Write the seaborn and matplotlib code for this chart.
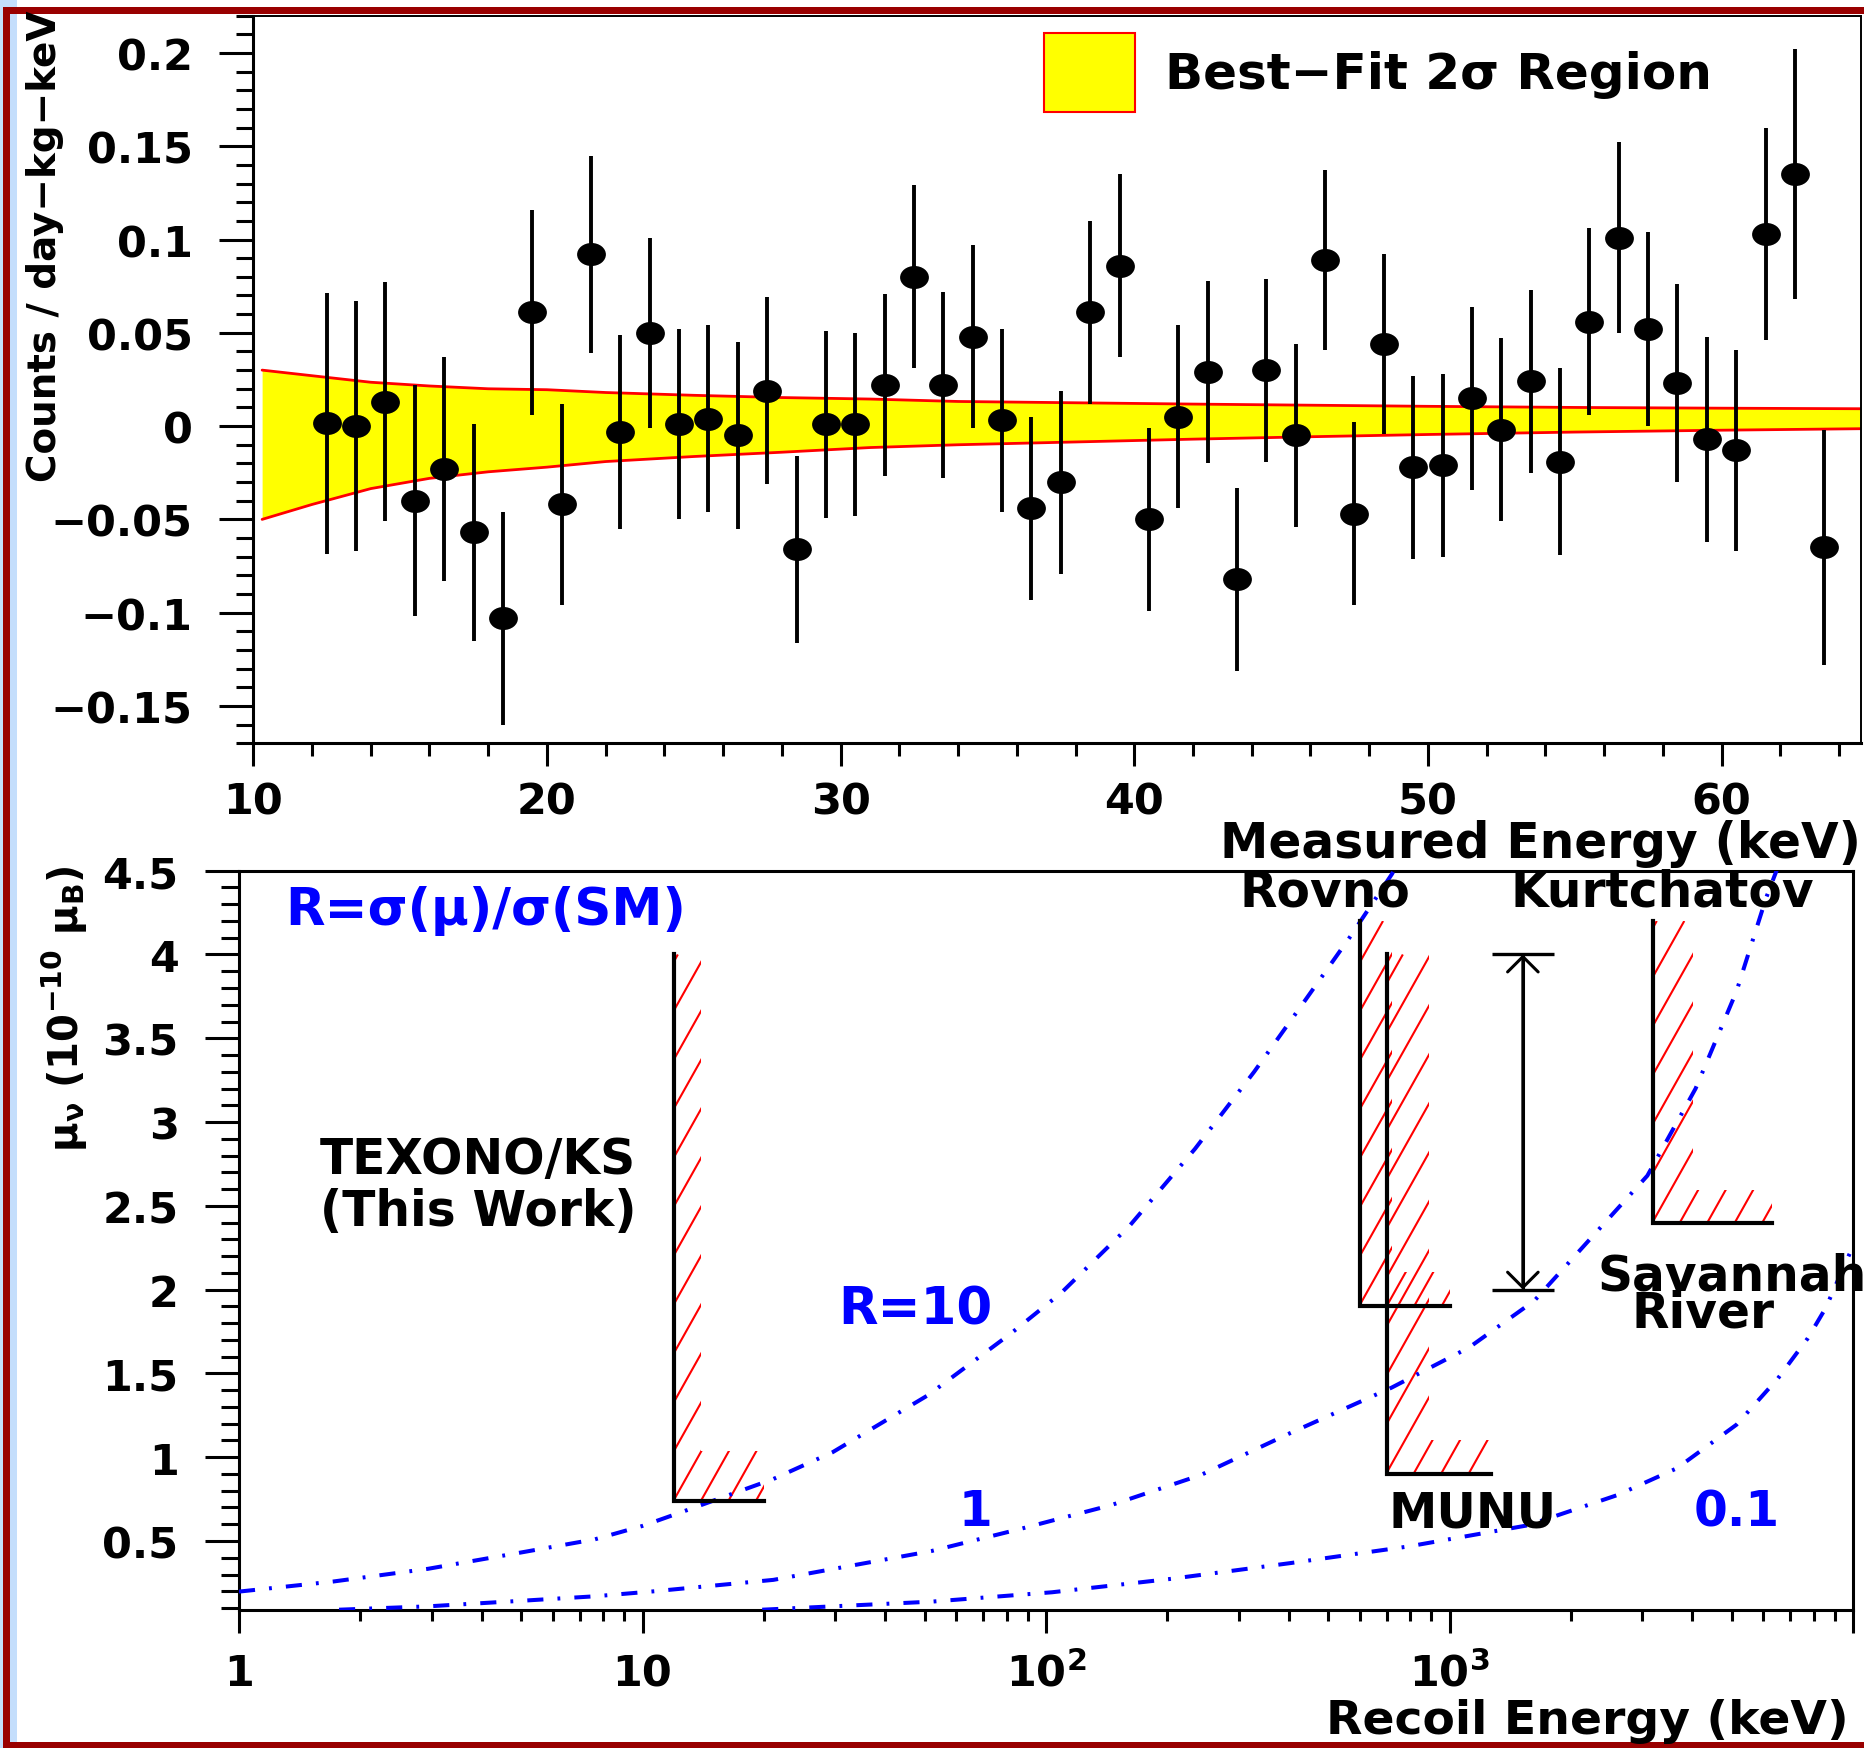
import numpy as np
import matplotlib
matplotlib.use('Agg')
import matplotlib.pyplot as plt
import matplotlib.ticker as mticker
import matplotlib.transforms as mtransforms
from matplotlib.path import Path
from matplotlib.patches import Patch, Rectangle
from matplotlib.collections import LineCollection
import seaborn as sns

# ---- top panel: residual spectrum (counts / day-kg-keV) ----
energy = [12.5, 13.5, 14.5, 15.5, 16.5, 17.5, 18.5, 19.5, 20.5, 21.5,
          22.5, 23.5, 24.5, 25.5, 26.5, 27.5, 28.5, 29.5, 30.5, 31.5,
          32.5, 33.5, 34.5, 35.5, 36.5, 37.5, 38.5, 39.5, 40.5, 41.5,
          42.5, 43.5, 44.5, 45.5, 46.5, 47.5, 48.5, 49.5, 50.5, 51.5,
          52.5, 53.5, 54.5, 55.5, 56.5, 57.5, 58.5, 59.5, 60.5, 61.5,
          62.5, 63.5]
counts = [0.0014, 0.0, 0.013, -0.040, -0.023, -0.057, -0.103, 0.061, -0.042, 0.092,
          -0.003, 0.050, 0.001, 0.004, -0.005, 0.019, -0.066, 0.001, 0.001, 0.022,
          0.080, 0.022, 0.048, 0.003, -0.044, -0.030, 0.061, 0.086, -0.050, 0.005,
          0.029, -0.082, 0.030, -0.005, 0.089, -0.047, 0.044, -0.022, -0.021, 0.015,
          -0.002, 0.024, -0.019, 0.056, 0.101, 0.052, 0.023, -0.007, -0.013, 0.103,
          0.135, -0.065]
errors = [0.070, 0.067, 0.064, 0.062, 0.060, 0.058, 0.057, 0.055, 0.054, 0.053,
          0.052, 0.051, 0.051, 0.050, 0.050, 0.050, 0.050, 0.050, 0.049, 0.049,
          0.049, 0.050, 0.049, 0.049, 0.049, 0.049, 0.049, 0.049, 0.049, 0.049,
          0.049, 0.049, 0.049, 0.049, 0.048, 0.049, 0.048, 0.049, 0.049, 0.049,
          0.049, 0.049, 0.050, 0.050, 0.051, 0.052, 0.053, 0.055, 0.054, 0.057,
          0.067, 0.063]

# best-fit 2 sigma band
band_x = [10.3, 12, 14, 16, 18, 20, 22, 25, 28, 31, 34, 38, 42, 46, 50, 55, 60, 64.75]
band_hi = [0.030, 0.027, 0.0235, 0.0215, 0.020, 0.0195, 0.018, 0.0165, 0.0153, 0.0145,
           0.0132, 0.0125, 0.0118, 0.0112, 0.0106, 0.0100, 0.0096, 0.0093]
band_lo = [-0.050, -0.042, -0.0335, -0.028, -0.0245, -0.022, -0.019, -0.0163, -0.0140, -0.0115,
           -0.0100, -0.0085, -0.0070, -0.0057, -0.0045, -0.0032, -0.0022, -0.0014]

# ---- bottom panel: mu_nu vs recoil energy ----
r10_T = [1, 1.71, 2.94, 5.07, 7.62, 10, 13.1, 21.1, 29.6, 51, 82, 109, 161, 234, 328, 431, 565, 720, 735]
r10_mu = [0.198, 0.258, 0.334, 0.434, 0.51, 0.59, 0.69, 0.87, 1.03, 1.37, 1.74, 1.98, 2.38, 2.84,
          3.30, 3.70, 4.10, 4.48, 4.52]
r1_T = [1.77, 2.94, 5.07, 7.62, 10.7, 21.1, 52, 87, 145, 242, 403, 717, 1117, 1623, 3093, 4073,
        5143, 6096, 6510]
r1_mu = [0.09, 0.11, 0.144, 0.17, 0.2, 0.268, 0.44, 0.574, 0.714, 0.894, 1.144, 1.414, 1.654, 1.934,
         2.68, 3.20, 3.78, 4.34, 4.52]
r01_T = [19.8, 52, 103.5, 204, 403, 794, 1567, 2606, 3661, 5143, 6514, 7727, 8555, 10000]
r01_mu = [0.09, 0.138, 0.194, 0.274, 0.368, 0.468, 0.594, 0.774, 0.934, 1.194, 1.47, 1.71, 1.89, 2.26]

exp_names = ['TEXONO', 'Rovno', 'MUNU', 'Kurtchatov']
exp_T_low = [12, 600, 700, 3200]
exp_T_high = [20, 1000, 1270, 6300]
exp_mu_limit = [0.74, 1.9, 0.9, 2.4]
exp_mu_top = [4.0, 4.2, 4.0, 4.2]
# hatch band size in pixels (width right of the line, height above the floor)
hatch_w = [27, 32, 42, 40]
hatch_h = [50, 34, 34, 33]

sr_T = 1520
sr_mu = [2.0, 4.0]

# ---- style ----
sns.set_theme(style='ticks')
plt.rcParams['font.family'] = ['DejaVu Sans']
plt.rcParams.update({
    'font.weight': 'bold', 'axes.labelweight': 'bold',
    'mathtext.fontset': 'dejavusans', 'mathtext.default': 'bf',
    'text.color': 'black', 'axes.labelcolor': 'black', 'axes.edgecolor': 'black',
    'xtick.color': 'black', 'ytick.color': 'black',
})
DARK_RED = '#990000'
LIGHT_BLUE = '#c4defc'
BLUE = '#0000ff'
TICK_FS = 31
TEXT_FS = 35

W, H = 1864, 1749
fig = plt.figure(figsize=(W / 100, H / 100), dpi=100, facecolor='white')


def px_rect(x0, y0, x1, y1, color):
    fig.add_artist(Rectangle((x0 / W, 1 - y1 / H), (x1 - x0) / W, (y1 - y0) / H,
                             transform=fig.transFigure, color=color, lw=0, zorder=0))


# slide frame
px_rect(0, 0, 17, 1749, LIGHT_BLUE)
px_rect(3, 8, 10, 1749, DARK_RED)
px_rect(3, 8, 1864, 15, DARK_RED)
px_rect(3, 1743, 1864, 1749, DARK_RED)


def g_fmt(v, pos):
    s = f'{round(v, 6):g}'
    if s in ('-0', '0'):
        return '0'
    return s.replace('-', '\u2212')


# ================= top panel =================
ax1 = fig.add_axes([253.3 / W, 1 - 744.3 / H, (1861 - 253.3) / W, (744.3 - 16.6) / H])
ax1.set_xlim(10, 64.75)
ax1.set_ylim(-0.17, 0.22)

ax1.fill_between(band_x, band_lo, band_hi, color='yellow', lw=0, zorder=1)
sns.lineplot(x=band_x, y=band_hi, ax=ax1, color='red', lw=2.0, estimator=None, sort=False, zorder=2)
sns.lineplot(x=band_x, y=band_lo, ax=ax1, color='red', lw=2.0, estimator=None, sort=False, zorder=2)

ax1.errorbar(energy, counts, yerr=errors, fmt='none', ecolor='black', elinewidth=2.8, capsize=0, zorder=4)
ellipse = mtransforms.Affine2D().scale(1.25, 1.0).transform_path(Path.unit_circle())
sns.scatterplot(x=energy, y=counts, ax=ax1, marker=ellipse, s=430, color='black',
                edgecolor='black', linewidth=0, zorder=5)

ax1.xaxis.set_major_locator(mticker.MultipleLocator(10))
ax1.xaxis.set_minor_locator(mticker.MultipleLocator(2))
ax1.yaxis.set_major_locator(mticker.MultipleLocator(0.05))
ax1.yaxis.set_minor_locator(mticker.MultipleLocator(0.01))
ax1.yaxis.set_major_formatter(mticker.FuncFormatter(g_fmt))
ax1.tick_params(axis='y', which='major', direction='out', length=24.5, width=2.2, pad=19, labelsize=TICK_FS)
ax1.tick_params(axis='y', which='minor', direction='out', length=12.2, width=2.2)
ax1.tick_params(axis='x', which='major', direction='out', length=16.6, width=2.2, pad=10, labelsize=TICK_FS)
ax1.tick_params(axis='x', which='minor', direction='out', length=9.4, width=2.2)
for side in ['left', 'bottom']:
    ax1.spines[side].set_linewidth(2.2)
for side in ['top', 'right']:
    ax1.spines[side].set_linewidth(1.4)

ax1.set_xlabel('Measured Energy (keV)', fontsize=TEXT_FS, ha='right', va='center')
ax1.xaxis.set_label_coords(1.0, -0.137)
ax1.set_ylabel('Counts / day\u2212kg\u2212keV', fontsize=28, ha='center', va='top',
               rotation=90, rotation_mode='default')
ax1.yaxis.set_label_coords(-0.1296, 1.008)

handle = Patch(facecolor='yellow', edgecolor='red', linewidth=1.5)
ax1.legend([handle], ['Best\u2212Fit 2\u03c3 Region'], loc='upper left', bbox_to_anchor=(0.4918, 0.976),
           frameon=False, borderpad=0, borderaxespad=0, handlelength=1.82, handleheight=2.04,
           handletextpad=0.6, prop={'size': 36, 'weight': 'bold'})

# ================= bottom panel =================
ax2 = fig.add_axes([239 / W, 1 - 1610.7 / H, (1853 - 239) / W, (1610.7 - 871.7) / H])
ax2.set_xscale('log')
ax2.set_xlim(1, 1e4)
ax2.set_ylim(0.09, 4.5)

curve_ls = (0, (4, 3.5, 0.7, 3.5))
for t, m in [(r10_T, r10_mu), (r1_T, r1_mu), (r01_T, r01_mu)]:
    sns.lineplot(x=t, y=m, ax=ax2, color=BLUE, lw=2.9, linestyle=curve_ls,
                 estimator=None, sort=False, zorder=3)

HATCH_SLOPE = 1.78   # dy/dx of hatch lines in pixels
HATCH_PERIOD = 27.5  # horizontal spacing of hatch lines in pixels
identity = mtransforms.IdentityTransform()
for i in range(len(exp_names)):
    t_lo, t_hi = exp_T_low[i], exp_T_high[i]
    m_lim, m_top = exp_mu_limit[i], exp_mu_top[i]
    (x0, y0), (x1, _), (_, y1) = ax2.transData.transform([(t_lo, m_lim), (t_hi, m_lim), (t_lo, m_top)])
    bw, bh = hatch_w[i], hatch_h[i]
    clip = Path([(x0, y0), (x1, y0), (x1, y0 + bh), (x0 + bw, y0 + bh), (x0 + bw, y1), (x0, y1), (x0, y0)],
                closed=True)
    rise = (y1 - y0) / HATCH_SLOPE
    k0 = int(np.floor(-rise / HATCH_PERIOD)) - 1
    k1 = int(np.ceil((x1 - x0) / HATCH_PERIOD)) + 1
    segs = []
    for k in range(k0, k1):
        c = x0 - 1 + k * HATCH_PERIOD
        segs.append([(c, y0), (c + rise, y1)])
    lc = LineCollection(segs, colors='red', linewidths=1.5, transform=identity, zorder=2)
    lc.set_clip_path(clip, identity)
    ax2.add_collection(lc, autolim=False)
    ax2.plot([t_lo, t_lo, t_hi], [m_top, m_lim, m_lim], color='black', lw=3,
             solid_joinstyle='miter', solid_capstyle='projecting', zorder=4)

# Savannah River range
ax2.errorbar([sr_T], [np.mean(sr_mu)], yerr=[(sr_mu[1] - sr_mu[0]) / 2], fmt='none', ecolor='black',
             elinewidth=2.2, capsize=22, capthick=2.4, zorder=4)
ax2.annotate('', xy=(sr_T, sr_mu[1]), xytext=(sr_T, sr_mu[0]),
             arrowprops=dict(arrowstyle='<->,head_length=0.55,head_width=0.55', lw=2.2, color='black',
                             shrinkA=0, shrinkB=0, mutation_scale=20), zorder=4)

ax2.xaxis.set_major_locator(mticker.FixedLocator([1, 10, 100, 1000, 10000]))
ax2.xaxis.set_major_formatter(mticker.FixedFormatter(['1', '10', r'$10^{2}$', r'$10^{3}$', '']))
ax2.xaxis.set_minor_locator(mticker.LogLocator(base=10, subs=np.arange(2, 10)))
ax2.xaxis.set_minor_formatter(mticker.NullFormatter())
ax2.yaxis.set_major_locator(mticker.MultipleLocator(0.5))
ax2.yaxis.set_minor_locator(mticker.MultipleLocator(0.1))
ax2.yaxis.set_major_formatter(mticker.FuncFormatter(g_fmt))
ax2.tick_params(axis='y', which='major', direction='out', length=24.5, width=2.2, pad=19, labelsize=TICK_FS)
ax2.tick_params(axis='y', which='minor', direction='out', length=13, width=2.2)
ax2.tick_params(axis='x', which='major', direction='out', length=16.6, width=2.2, pad=14, labelsize=TICK_FS)
ax2.tick_params(axis='x', which='minor', direction='out', length=8, width=2.2)
for side in ax2.spines:
    ax2.spines[side].set_linewidth(2.2)

ax2.set_xlabel('Recoil Energy (keV)', fontsize=34, ha='right', va='center')
ax2.xaxis.set_label_coords(0.9975, -0.150)
ax2.set_ylabel('\u03bc$_{\u03bd}$ (10$^{-10}$ \u03bc$_{B}$)', fontsize=29, ha='center', va='top',
               rotation=90, rotation_mode='default')
ax2.yaxis.set_label_coords(-0.108, 1.008)

# annotations (axes fraction positions)
ax2.text(0.0285, 0.947, 'R=\u03c3(\u03bc)/\u03c3(SM)', color=BLUE, fontsize=37,
         ha='left', va='center', transform=ax2.transAxes)
ax2.text(0.246, 0.610, 'TEXONO/KS', fontsize=TEXT_FS, ha='right', va='center', transform=ax2.transAxes)
ax2.text(0.246, 0.5396, '(This Work)', fontsize=TEXT_FS, ha='right', va='center', transform=ax2.transAxes)
ax2.text(0.371, 0.4056, 'R=10', color=BLUE, fontsize=37, ha='left', va='center', transform=ax2.transAxes)
ax2.text(0.456, 0.1335, '1', color=BLUE, fontsize=TEXT_FS, ha='center', va='center', transform=ax2.transAxes)
ax2.text(0.9015, 0.1335, '0.1', color=BLUE, fontsize=TEXT_FS, ha='left', va='center', transform=ax2.transAxes)
ax2.text(0.7125, 0.132, 'MUNU', fontsize=TEXT_FS, ha='left', va='center', transform=ax2.transAxes)
ax2.text(0.620, 0.9725, 'Rovno', fontsize=TEXT_FS, ha='left', va='center', transform=ax2.transAxes)
ax2.text(0.7875, 0.9725, 'Kurtchatov', fontsize=TEXT_FS, ha='left', va='center', transform=ax2.transAxes)
ax2.text(0.8414, 0.452, 'Savannah', fontsize=TEXT_FS, ha='left', va='center', transform=ax2.transAxes)
ax2.text(0.863, 0.4015, 'River', fontsize=TEXT_FS, ha='left', va='center', transform=ax2.transAxes)

fig.savefig('out.png', dpi=100, facecolor='white')
